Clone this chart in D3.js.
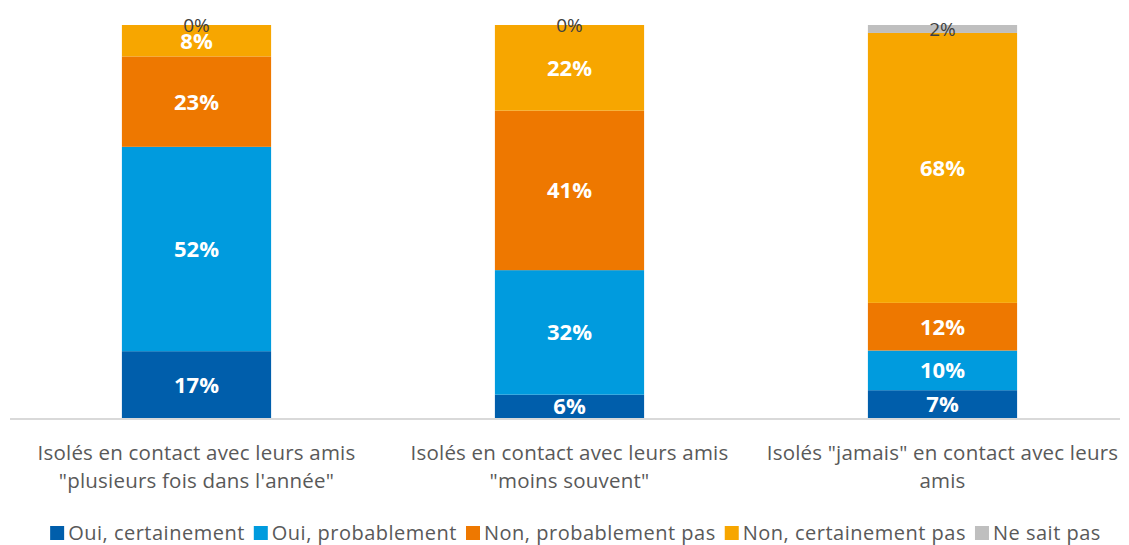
<!DOCTYPE html>
<html>
<head>
<meta charset="utf-8">
<script src="https://cdn.jsdelivr.net/npm/d3@7"></script>
<style>
  body { margin: 0; background: #fff; }
  svg text { font-family: "Open Sans", Lato, sans-serif; }
</style>
</head>
<body>
<div id="chart"></div>
<script>
// categories (tick labels, already split in lines like the original)
const categories = ['c1', 'c2', 'c3'];
const categoryLabels = [
  ['Isolés en contact avec leurs amis', '"plusieurs fois dans l\'année"'],
  ['Isolés en contact avec leurs amis', '"moins souvent"'],
  ['Isolés "jamais" en contact avec leurs', 'amis']
];

// series, bottom to top
const seriesNames = ['Oui, certainement', 'Oui, probablement', 'Non, probablement pas', 'Non, certainement pas', 'Ne sait pas'];
const seriesColors = ['#005EAB', '#009BDE', '#EE7800', '#F7A600', '#BFBFBF'];
const ouiCertainement = [17, 6, 7];
const ouiProbablement = [52, 32, 10];
const nonProbablement = [23, 41, 12];
const nonCertainement = [8, 22, 68];
const neSaitPas = [0, 0, 2];

const W = 1129, H = 545;
const margin = { top: 25, right: 0, bottom: 127, left: 10 };
const width = W - margin.left - margin.right;
const height = H - margin.top - margin.bottom;

const seriesValues = [ouiCertainement, ouiProbablement, nonProbablement, nonCertainement, neSaitPas];
const table = categories.map((c, i) => {
  const row = { cat: c };
  seriesNames.forEach((s, j) => { row[s] = seriesValues[j][i]; });
  return row;
});

// 100% stacked, like the original
const stacked = d3.stack().keys(seriesNames).offset(d3.stackOffsetExpand)(table);

const x = d3.scaleBand().domain(categories).range([0, width]).paddingInner(0.6).paddingOuter(0.3);
const y = d3.scaleLinear().domain([0, 1]).range([height, 0]);

const svg = d3.select('#chart').append('svg')
  .attr('width', W).attr('height', H);
const g = svg.append('g').attr('transform', 'translate(' + margin.left + ',' + margin.top + ')');

// bars
stacked.forEach((layer, j) => {
  g.append('g').selectAll('rect')
    .data(layer)
    .enter().append('rect')
    .attr('x', d => x(d.data.cat))
    .attr('width', x.bandwidth())
    .attr('y', d => y(d[1]))
    .attr('height', d => y(d[0]) - y(d[1]))
    .attr('fill', seriesColors[j]);
});

// baseline
g.append('line')
  .attr('x1', 0).attr('x2', 1110)
  .attr('y1', height + 1).attr('y2', height + 1)
  .attr('stroke', '#d9d9d9').attr('stroke-width', 2);

// value labels
stacked.forEach((layer, j) => {
  const small = j === 4; // grey series uses dark regular labels
  g.append('g').selectAll('text')
    .data(layer)
    .enter().append('text')
    .attr('x', d => x(d.data.cat) + x.bandwidth() / 2)
    .attr('y', d => (y(d[0]) + y(d[1])) / 2)
    .attr('dy', '0.36em')
    .attr('text-anchor', 'middle')
    .attr('fill', small ? '#404040' : '#fff')
    .attr('font-weight', small ? 400 : 700)
    .attr('font-size', small ? 19 : 22)
    .text(d => seriesValues[j][categories.indexOf(d.data.cat)] + '%');
});

// category labels
const xAxis = g.append('g').attr('transform', 'translate(0,' + height + ')');
categories.forEach((c, i) => {
  const t = xAxis.append('text')
    .attr('x', x(c) + x.bandwidth() / 2)
    .attr('y', 42)
    .attr('text-anchor', 'middle')
    .attr('fill', '#595959')
    .attr('font-size', 20.5)
    .attr('letter-spacing', 0.2);
  categoryLabels[i].forEach((line, k) => {
    t.append('tspan')
      .attr('x', x(c) + x.bandwidth() / 2)
      .attr('dy', k === 0 ? 0 : 28)
      .text(line);
  });
});

// legend
const legend = svg.append('g');
let lx = 0;
seriesNames.forEach((s, j) => {
  const it = legend.append('g');
  it.append('rect').attr('x', 0).attr('y', -14).attr('width', 14).attr('height', 14).attr('fill', seriesColors[j]);
  const tx = it.append('text').attr('x', 18).attr('y', 0).attr('fill', '#595959')
    .attr('font-size', 20).attr('letter-spacing', 0.5).text(s);
  const w = 18 + tx.node().getComputedTextLength();
  it.attr('transform', 'translate(' + lx + ',0)');
  lx += w + 9;
});
const legendWidth = lx - 9;
legend.attr('transform', 'translate(' + (575.5 - legendWidth / 2) + ',540)');
</script>
</body>
</html>
